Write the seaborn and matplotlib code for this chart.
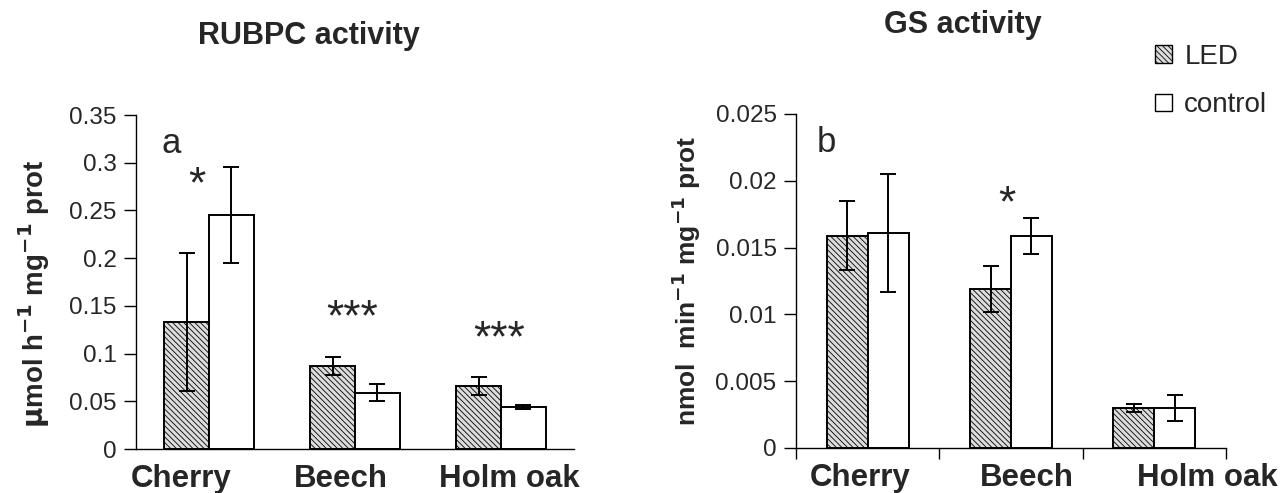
import numpy as np
import pandas as pd
import matplotlib
matplotlib.use("Agg")
import matplotlib.pyplot as plt
import seaborn as sns
from matplotlib.patches import Patch

# data
species = ["Cherry", "Beech", "Holm oak"]
treatments = ["LED", "control"]

rubpc_led = [0.133, 0.087, 0.066]
rubpc_ctrl = [0.245, 0.059, 0.044]
rubpc_led_err = [0.072, 0.0095, 0.009]
rubpc_ctrl_err = [0.050, 0.009, 0.0025]
rubpc_stars = ["*", "***", "***"]

gs_led = [0.0159, 0.0119, 0.0030]
gs_ctrl = [0.0161, 0.0159, 0.0030]
gs_led_err = [0.0026, 0.0017, 0.0003]
gs_ctrl_err = [0.0044, 0.00135, 0.0010]
gs_stars = ["", "*", ""]

sns.set_style("white")
plt.rcParams['font.family'] = ['Liberation Sans', 'DejaVu Sans']
plt.rcParams['hatch.linewidth'] = 0.6
plt.rcParams['hatch.color'] = '#555555'

HATCH = "\\\\\\\\\\\\"

fig = plt.figure(figsize=(12.88, 4.93), dpi=100)
ax1 = fig.add_axes([136 / 1288, 44 / 493, 438 / 1288, 334 / 493])
ax2 = fig.add_axes([796 / 1288, 45 / 493, 430 / 1288, 334 / 493])


def draw_panel(ax, led, ctrl, led_err, ctrl_err, stars, star_pos, ymax, step, ndec,
               ylabel, ylab_size, ylab_xy, letter, letter_xy, width, lab_shift):
    df = pd.DataFrame({
        "species": species * 2,
        "treatment": ["LED"] * 3 + ["control"] * 3,
        "value": led + ctrl,
        "err": led_err + ctrl_err,
    })
    sns.barplot(data=df, x="species", y="value", hue="treatment", order=species,
                hue_order=treatments, palette=["white", "white"], width=width,
                errorbar=None, edgecolor="black", linewidth=1.4, legend=False, ax=ax)
    for i, b in enumerate(ax.patches[:6]):
        if i < 3:
            b.set_hatch(HATCH)
            b.set_facecolor("#dcdcdc")
        x = b.get_x() + b.get_width() / 2
        ax.errorbar(x, df["value"][i], yerr=df["err"][i], color="black",
                    capsize=5.5, elinewidth=1.4, capthick=1.4, zorder=5)
    for i, s in enumerate(stars):
        if s:
            ax.text(i + star_pos[i][0], star_pos[i][1], s, ha="center", va="center", fontsize=32)
    ax.set_xlim(-0.5, 2.5)
    ax.set_ylim(0, ymax)
    ticks = np.arange(0, ymax + step / 2, step)
    ax.set_yticks(ticks)
    ax.set_yticklabels([f"{t:.{ndec}f}".rstrip("0").rstrip(".") for t in ticks], fontsize=17.5)
    # category labels sit a little off the bar groups, as in the original figure
    ax.set_xticks([i + d for i, d in enumerate(lab_shift)])
    ax.set_xticklabels(species, fontsize=22.5, fontweight="bold")
    ax.set_xlabel("")
    ax.set_ylabel(ylabel, fontsize=ylab_size, fontweight="bold")
    ax.yaxis.set_label_coords(*ylab_xy)
    sns.despine(ax=ax)
    for sp in ["left", "bottom"]:
        ax.spines[sp].set_color("black")
        ax.spines[sp].set_linewidth(1.0)
    ax.tick_params(axis="y", left=True, length=9, width=1, color="black", pad=5)
    ax.tick_params(axis="x", which="major", bottom=False, length=0, pad=11)
    ax.text(letter_xy[0], letter_xy[1], letter, transform=ax.transAxes, fontsize=25,
            ha="center", va="center")


draw_panel(ax1, rubpc_led, rubpc_ctrl, rubpc_led_err, rubpc_ctrl_err,
           rubpc_stars, [(-0.08, 0.276), (-0.02, 0.136), (-0.015, 0.114)], 0.35, 0.05, 2,
           r"$\mathbf{\mu}$mol h$^{\mathbf{-1}}$ mg$^{\mathbf{-1}}$ prot", 20, (-0.192, 0.466),
           "a", (0.08, 0.916), 0.61, [-0.19, -0.10, 0.06])
draw_panel(ax2, gs_led, gs_ctrl, gs_led_err, gs_ctrl_err,
           gs_stars, [(0, 0), (-0.03, 0.0182), (0, 0)], 0.025, 0.005, 3,
           r"nmol  min$^{\mathbf{-1}}$ mg$^{\mathbf{-1}}$ prot", 19, (-0.216, 0.50),
           "b", (0.07, 0.916), 0.57, [-0.056, 0.11, 0.37])
ax2.set_xticks([-0.5, 0.5, 1.5, 2.5], minor=True)
ax2.tick_params(axis="x", which="minor", bottom=True, length=8, width=1, color="black", direction="out")

fig.text(309 / 1288, 1 - 36 / 493, "RUBPC activity", ha="center", va="center",
         fontsize=22, fontweight="bold")
fig.text(963 / 1288, 1 - 25 / 493, "GS activity", ha="center", va="center",
         fontsize=22, fontweight="bold")

handles = [Patch(facecolor="#dcdcdc", edgecolor="black", hatch=HATCH, label="LED"),
           Patch(facecolor="white", edgecolor="black", label="control")]
fig.legend(handles=handles, loc="upper left", bbox_to_anchor=(1144 / 1288, 1 - 33 / 493),
           frameon=False, fontsize=20, handlelength=0.6, handleheight=0.6,
           handletextpad=0.45, labelspacing=0.8, borderaxespad=0)

fig.savefig("out.png", dpi=100)
